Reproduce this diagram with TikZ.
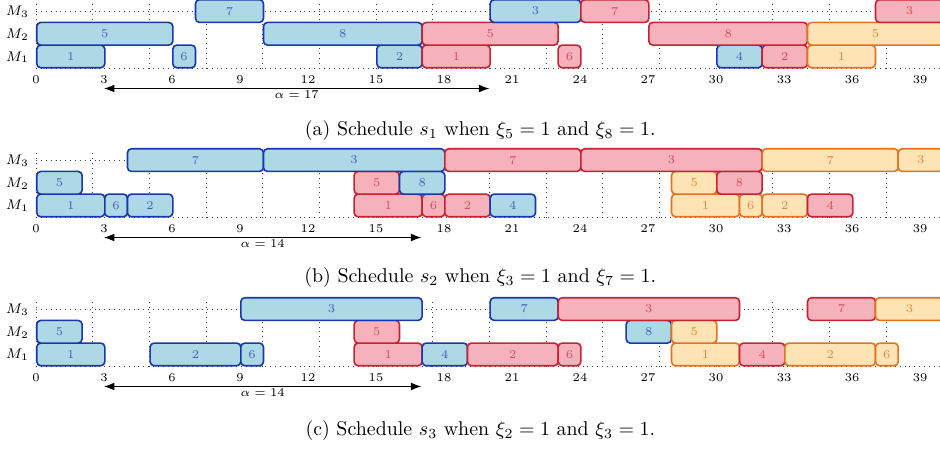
\documentclass[tikz,border=0pt]{standalone}
\usepackage{amsmath,amssymb}
\usepackage{xcolor}
\usepackage{tikz}
\usetikzlibrary{arrows.meta, positioning}

\definecolor{bluefill}{RGB}{173,216,230}
\definecolor{blueline}{RGB}{25,55,170}
\definecolor{redfill}{RGB}{245,178,188}
\definecolor{redline}{RGB}{195,35,50}
\definecolor{orangefill}{RGB}{254,228,180}
\definecolor{orangeline}{RGB}{225,115,35}

\begin{document}
\begin{tikzpicture}[
    x=0.4cm, y=0.4cm,
    small/.style={font=\fontsize{6}{7}\selectfont},
    gridline/.style={dotted, black!75, line width=0.45pt},
    job/.style={small, draw, rounded corners=2pt, line width=0.8pt, inner sep=0pt, minimum height=0.4cm, anchor=south west},
    bluejob/.style={job, draw=blueline, fill=bluefill, text=blueline!80},
    redjob/.style={job, draw=redline, fill=redfill, text=redline!80},
    orangejob/.style={job, draw=orangeline, fill=orangefill, text=orangeline!85},
    span/.style={{Latex}-{Latex}, line width=0.5pt}
]
    \clip (-1.588,-3.66) rectangle (39.88,16.17);

    % (a)
    \begin{scope}[shift={(0,13.145)}]
        \draw[gridline] (0,0) grid (40,3);
        \foreach \m in {1,2,3}
            \node[font=\scriptsize, left] (am\m) at (0,\m-0.5) {$M_\m$};
        \foreach \t in {0,3,...,39}
            \node[small, below] (at\t) at (\t,0) {\t};
        \foreach \m/\s/\e/\j/\c [count=\i] in {
            1/0/3/1/bluejob, 1/6/7/6/bluejob, 1/15/17/2/bluejob, 1/17/20/1/redjob,
            1/23/24/6/redjob, 1/30/32/4/bluejob, 1/32/34/2/redjob, 1/34/37/1/orangejob,
            2/0/6/5/bluejob, 2/10/17/8/bluejob, 2/17/23/5/redjob, 2/27/34/8/redjob,
            2/34/40/5/orangejob,
            3/7/10/7/bluejob, 3/20/24/3/bluejob, 3/24/27/7/redjob, 3/37/40/3/redjob}
            \node[\c, minimum width={(\e-\s)*0.4cm}] (a\i) at (\s,\m-1) {\j};
        \coordinate (aleft) at (3,-0.88);
        \coordinate (aright) at (20,-0.88);
        \draw[span] (aleft) -- node[small, below, inner sep=1pt] (aalpha) {$\alpha = 17$} (aright);
        \node (acap) at (19.6,-2.735) {(a) Schedule $s_1$ when $\xi_5 = 1$ and $\xi_8 = 1$.};
    \end{scope}

    % (b)
    \begin{scope}[shift={(0,6.572)}]
        \draw[gridline] (0,0) grid (40,3);
        \foreach \m in {1,2,3}
            \node[font=\scriptsize, left] (bm\m) at (0,\m-0.5) {$M_\m$};
        \foreach \t in {0,3,...,39}
            \node[small, below] (bt\t) at (\t,0) {\t};
        \foreach \m/\s/\e/\j/\c [count=\i] in {
            1/0/3/1/bluejob, 1/3/4/6/bluejob, 1/4/6/2/bluejob, 1/14/17/1/redjob,
            1/17/18/6/redjob, 1/18/20/2/redjob, 1/20/22/4/bluejob, 1/28/31/1/orangejob,
            1/31/32/6/orangejob, 1/32/34/2/orangejob, 1/34/36/4/redjob,
            2/0/2/5/bluejob, 2/14/16/5/redjob, 2/16/18/8/bluejob, 2/28/30/5/orangejob,
            2/30/32/8/redjob,
            3/4/10/7/bluejob, 3/10/18/3/bluejob, 3/18/24/7/redjob, 3/24/32/3/redjob,
            3/32/38/7/orangejob, 3/38/40/3/orangejob}
            \node[\c, minimum width={(\e-\s)*0.4cm}] (b\i) at (\s,\m-1) {\j};
        \coordinate (bleft) at (3,-0.88);
        \coordinate (bright) at (17,-0.88);
        \draw[span] (bleft) -- node[small, below, inner sep=1pt] (balpha) {$\alpha = 14$} (bright);
        \node (bcap) at (19.6,-2.64) {(b) Schedule $s_2$ when $\xi_3 = 1$ and $\xi_7 = 1$.};
    \end{scope}

    % (c)
    \begin{scope}
        \draw[gridline] (0,0) grid (40,3);
        \foreach \m in {1,2,3}
            \node[font=\scriptsize, left] (cm\m) at (0,\m-0.5) {$M_\m$};
        \foreach \t in {0,3,...,39}
            \node[small, below] (ct\t) at (\t,0) {\t};
        \foreach \m/\s/\e/\j/\c [count=\i] in {
            1/0/3/1/bluejob, 1/5/9/2/bluejob, 1/9/10/6/bluejob, 1/14/17/1/redjob,
            1/17/19/4/bluejob, 1/19/23/2/redjob, 1/23/24/6/redjob, 1/28/31/1/orangejob,
            1/31/33/4/redjob, 1/33/37/2/orangejob, 1/37/38/6/orangejob,
            2/0/2/5/bluejob, 2/14/16/5/redjob, 2/26/28/8/bluejob, 2/28/30/5/orangejob,
            3/9/17/3/bluejob, 3/20/23/7/bluejob, 3/23/31/3/redjob, 3/34/37/7/redjob,
            3/37/40/3/orangejob}
            \node[\c, minimum width={(\e-\s)*0.4cm}] (c\i) at (\s,\m-1) {\j};
        \coordinate (cleft) at (3,-0.88);
        \coordinate (cright) at (17,-0.88);
        \draw[span] (cleft) -- node[small, below, inner sep=1pt] (calpha) {$\alpha = 14$} (cright);
        \node (ccap) at (19.6,-2.82) {(c) Schedule $s_3$ when $\xi_2 = 1$ and $\xi_3 = 1$.};
    \end{scope}

\end{tikzpicture}
\end{document}
